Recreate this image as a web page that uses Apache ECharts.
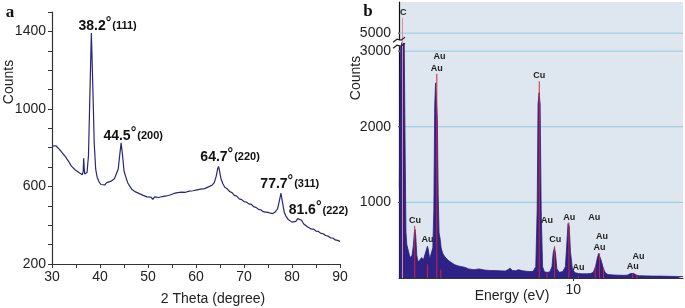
<!DOCTYPE html>
<html>
<head>
<meta charset="utf-8">
<script src="https://cdn.jsdelivr.net/npm/echarts@6/dist/echarts.min.js"></script>
<style>
html, body { margin: 0; padding: 0; background: #fff; }
#chart_box { width: 685px; height: 308px; }
</style>
</head>
<body>
<div id="chart_box"></div>
<script>
/* a: XRD pattern */
var xrdTheta = [30.0, 30.4, 30.8, 31.2, 31.6, 32.0, 32.4, 32.8, 33.2, 33.6, 34.0, 34.4, 34.8, 35.2, 35.6, 36.0, 36.3, 36.5, 36.6, 36.7, 36.8, 37.0, 37.3, 37.6, 37.9, 38.2, 38.5, 38.8, 39.1, 39.4, 39.8,
	40.2, 40.6, 41.0, 41.4, 41.8, 42.2, 42.6, 43.0, 43.4, 43.8, 44.1, 44.4, 44.7, 45.0, 45.4, 45.8, 46.2, 46.6, 47.0, 47.4, 47.8, 48.2, 48.6, 49.0, 49.4, 49.8,
	50.2, 50.6, 51.0, 51.4, 51.8, 52.2, 52.6, 53.0, 53.4, 53.8, 54.2, 54.6, 55.0, 55.4, 55.8, 56.2, 56.6, 57.0, 57.4, 57.8, 58.2, 58.6, 59.0, 59.4, 59.8,
	60.2, 60.6, 61.0, 61.4, 61.8, 62.2, 62.6, 63.0, 63.4, 63.8, 64.2, 64.5, 64.7, 64.9, 65.2, 65.6, 66.0, 66.5, 67.0, 67.5, 68.0, 68.5, 69.0, 69.5,
	70.0, 70.5, 71.0, 71.5, 72.0, 72.5, 73.0, 73.5, 74.0, 74.5, 75.0, 75.5, 76.0, 76.5, 77.0, 77.4, 77.7, 78.0, 78.4, 78.8, 79.2, 79.6,
	80.0, 80.4, 80.8, 81.2, 81.6, 82.0, 82.4, 82.8, 83.2, 83.6, 84.0, 84.5, 85.0, 85.5, 86.0, 86.5, 87.0, 87.5, 88.0, 88.5, 89.0, 89.5, 90.0];
var xrdCounts = [808, 818, 810, 808, 790, 782, 765, 754, 738, 724, 706, 702, 686, 686, 672, 670, 660, 678, 745, 700, 664, 660, 672, 760, 1080, 1392, 1120, 820, 690, 648, 624,
	610, 616, 608, 620, 614, 626, 626, 640, 650, 690, 760, 825, 760, 680, 647, 618, 602, 586, 584, 572, 572, 563, 562, 554, 554, 546,
	547, 545, 534, 546, 544, 543, 546, 548, 550, 551, 553, 556, 556, 564, 556, 568, 561, 571, 570, 570, 574, 576, 578, 578, 581,
	582, 584, 586, 588, 589, 590, 598, 596, 608, 620, 652, 690, 703, 680, 640, 614, 596, 588, 574, 568, 554, 550, 536, 532,
	522, 520, 510, 508, 496, 492, 482, 480, 470, 468, 466, 462, 460, 468, 485, 530, 565, 520, 465, 444, 430, 424,
	416, 418, 420, 434, 440, 426, 408, 400, 392, 390, 380, 380, 370, 368, 358, 356, 347, 344, 335, 334, 324, 322, 317];
/* peak labels (anchor in data space) */
var xrdPeakText = ['38.2', '44.5', '64.7', '77.7', '81.6'];
var xrdPeakHkl = ['(111)', '(200)', '(220)', '(311)', '(222)'];
var xrdLabelTheta = [35.4, 40.6, 60.8, 73.3, 79.2];
var xrdLabelCounts = [1427, 858, 753, 612, 476];

/* b: EDS spectrum */
var edsEnergy = [0.02, 0.06, 0.10, 0.20, 0.30, 0.36, 0.40, 0.45, 0.52, 0.60, 0.66, 0.75, 0.82, 0.88, 0.92, 0.96, 1.02, 1.10, 1.20, 1.30, 1.40, 1.50, 1.58, 1.63, 1.68, 1.76, 1.86, 1.94,
	2.00, 2.05, 2.10, 2.15, 2.20, 2.25, 2.30, 2.36, 2.42, 2.50, 2.60, 2.75, 2.90, 3.00, 3.2, 3.4, 3.6, 3.8, 4.0, 4.3, 4.6, 4.9, 5.2, 5.5, 5.8, 6.1, 6.25, 6.38, 6.5, 6.7, 6.85, 6.95,
	7.1, 7.3, 7.5, 7.7, 7.85, 7.93, 7.98, 8.04, 8.10, 8.16, 8.24, 8.35, 8.5, 8.65, 8.78, 8.85, 8.92, 8.98, 9.06, 9.2, 9.4, 9.55, 9.63, 9.70, 9.77, 9.84, 9.95,
	10.1, 10.3, 10.5, 10.8, 11.0, 11.15, 11.28, 11.38, 11.46, 11.54, 11.62, 11.72, 11.85, 12.0, 12.3, 12.6, 12.9, 13.1, 13.3, 13.40, 13.48, 13.6, 13.8, 14.2, 14.6, 15.0, 15.5, 16.0, 16.3];
var edsCounts = [1200, 2600, 3900, 3900, 3850, 1500, 600, 440, 420, 300, 270, 300, 420, 600, 640, 560, 300, 210, 230, 270, 240, 260, 380, 420, 380, 250, 260, 400,
	900, 2280, 2580, 2560, 2110, 1100, 600, 520, 400, 330, 290, 250, 220, 200, 175, 160, 150, 140, 120, 110, 120, 105, 100, 98, 95, 92, 110, 130, 100, 95, 110, 115,
	95, 90, 85, 88, 150, 900, 2300, 2450, 2300, 900, 150, 80, 75, 80, 150, 330, 400, 330, 120, 75, 85, 150, 450, 720, 680, 350, 120,
	70, 60, 55, 55, 60, 75, 150, 260, 325, 300, 220, 130, 65, 45, 40, 38, 35, 38, 60, 80, 60, 40, 30, 28, 25, 25, 22, 20, 20];
/* element marker lines */
var edsLineEnergy = [0.20, 0.90, 1.63, 2.17, 2.40, 8.05, 8.49, 8.93, 9.75, 10.30, 11.26, 11.51, 11.74, 13.41, 13.66];
var edsLineCounts = [6700, 690, 180, 2700, 110, 2600, 70, 420, 735, 25, 140, 325, 140, 60, 40];
/* element tags (anchor in data space) */
var edsTagText = ['C', 'Au', 'Au', 'Cu', 'Cu', 'Au', 'Au', 'Cu', 'Au', 'Au', 'Au', 'Au', 'Au', 'Au', 'Au'];
var edsTagEnergy = [0.25, 2.32, 2.17, 8.05, 0.92, 1.63, 8.49, 8.97, 9.77, 11.21, 11.65, 11.51, 10.30, 13.75, 13.41];
var edsTagCounts = [7260, 2925, 2770, 2682, 762, 510, 762, 510, 805, 805, 554, 408, 143, 289, 156];
/* y ticks of b (real counts) */
var edsYTicks = [1000, 2000, 3000, 5000];

var FONT = '"Liberation Sans", Arial, sans-serif';
var AXIS = '#333';
var E_MAX = 16.3;

/* broken y axis: above 3000 compressed */
function brk(v) {
	return v <= 3000 ? v : 3000 + (v - 3000) * 0.119;
}
function unbrk(v) {
	return v <= 3000 ? v : Math.round(3000 + (v - 3000) / 0.119);
}

var chart = echarts.init(document.getElementById('chart_box'));

var xrdData = xrdTheta.map(function(t, i) { return [t, xrdCounts[i]]; });
var xrdLabels = xrdPeakText.map(function(t, i) {
	return { value: [xrdLabelTheta[i], xrdLabelCounts[i]], name: t, hkl: xrdPeakHkl[i] };
});
var edsData = edsEnergy.map(function(e, i) { return [e, brk(edsCounts[i])]; });
var edsLines = edsLineEnergy.map(function(e, i) { return [e, brk(edsLineCounts[i])]; });
var edsTags = edsTagText.map(function(t, i) {
	return { value: [edsTagEnergy[i], brk(edsTagCounts[i])], name: t };
});

/* b: one line series per grid line, one per y tick (tick sits left of the axis) */
var gridSeries = [];
edsYTicks.forEach(function(v) {
	gridSeries.push({
		type: 'line', xAxisIndex: 1, yAxisIndex: 1, z: 1, silent: true,
		data: [[0, brk(v)], [E_MAX, brk(v)]], showSymbol: false, symbol: 'none',
		lineStyle: { color: '#8ecce4', width: 1 }
	});
	gridSeries.push({
		type: 'line', xAxisIndex: 1, yAxisIndex: 1, z: 6, silent: true, clip: false,
		data: [[-0.23, brk(v)], [0, brk(v)]], showSymbol: false, symbol: 'none',
		lineStyle: { color: AXIS, width: 1 }
	});
});

var option = {
	animation: false,
	backgroundColor: '#fff',
	grid: [
		{ left: 52, right: 345, top: 12, bottom: 44 },
		{ left: 399, right: 2, top: 2, bottom: 30, show: true, backgroundColor: '#dee7ef', borderWidth: 0 }
	],
	xAxis: [{
		gridIndex: 0, type: 'value', min: 30, max: 90, interval: 5,
		axisLine: { lineStyle: { color: AXIS, width: 1.2 } },
		axisTick: { length: 4, lineStyle: { color: AXIS } },
		splitLine: { show: false },
		axisLabel: {
			color: '#222', fontSize: 14, fontFamily: FONT, margin: 6,
			formatter: function(v) { return v % 10 === 0 ? String(v) : ''; }
		}
	}, {
		gridIndex: 1, type: 'value', min: 0, max: E_MAX,
		axisLine: { lineStyle: { color: AXIS, width: 1.2 } },
		axisTick: { length: 3, customValues: [10], lineStyle: { color: AXIS } },
		splitLine: { show: false },
		axisLabel: { customValues: [10], color: '#222', fontSize: 14, fontFamily: FONT, margin: 5 }
	}],
	yAxis: [{
		gridIndex: 0, type: 'value', min: 200, max: 1500, interval: 100,
		axisLine: { show: true, lineStyle: { color: AXIS, width: 1.2 } },
		axisTick: { show: true, length: 4, lineStyle: { color: AXIS } },
		splitLine: { show: false },
		axisLabel: {
			customValues: [200, 600, 1000, 1400], color: '#222', fontSize: 14, fontFamily: FONT, margin: 6,
			formatter: function(v) { return String(v); }
		}
	}, {
		gridIndex: 1, type: 'value', min: 0, max: 3650,
		axisLine: { show: true, lineStyle: { color: '#111', width: 1.2 } },
		axisTick: { show: false },
		splitLine: { show: false },
		axisLabel: {
			customValues: edsYTicks.map(brk), color: '#222', fontSize: 14, fontFamily: FONT, margin: 8,
			formatter: function(v) { return String(unbrk(v)); }
		}
	}],
	series: [{
		/* XRD curve */
		type: 'line', xAxisIndex: 0, yAxisIndex: 0,
		data: xrdData, showSymbol: false, symbol: 'none',
		lineStyle: { color: '#27267f', width: 1.2 }
	}, {
		/* XRD peak labels */
		type: 'scatter', xAxisIndex: 0, yAxisIndex: 0,
		data: xrdLabels, symbolSize: 1, itemStyle: { color: 'rgba(0,0,0,0)', opacity: 1 },
		label: {
			show: true, position: 'right', distance: 0,
			formatter: function(p) { return '{n|' + p.name + '}{d|°}{h|' + p.data.hkl + '}'; },
			rich: {
				n: { fontSize: 14, fontWeight: 'bold', color: '#111', fontFamily: FONT },
				d: { fontSize: 14, fontWeight: 'bold', color: '#111', fontFamily: FONT, padding: [0, 1, 6, 0] },
				h: { fontSize: 11, fontWeight: 'bold', color: '#111', fontFamily: FONT }
			}
		}
	}, {
		/* EDS spectrum */
		type: 'line', xAxisIndex: 1, yAxisIndex: 1, z: 3,
		data: edsData, showSymbol: false, symbol: 'none',
		lineStyle: { color: '#2c2080', width: 0.8 },
		areaStyle: { color: '#2e2286', opacity: 1 }
	}, {
		/* element marker lines */
		type: 'custom', xAxisIndex: 1, yAxisIndex: 1, z: 4,
		data: edsLines,
		renderItem: function(params, api) {
			var p0 = api.coord([api.value(0), 0]);
			var p1 = api.coord([api.value(0), api.value(1)]);
			return {
				type: 'line',
				shape: { x1: p0[0], y1: p0[1], x2: p1[0], y2: p1[1] },
				style: { stroke: params.dataIndex === 0 ? '#e38a95' : '#d0243f', lineWidth: 1 }
			};
		}
	}, {
		/* element tags */
		type: 'scatter', xAxisIndex: 1, yAxisIndex: 1, z: 5,
		data: edsTags, symbolSize: 1, itemStyle: { color: 'rgba(0,0,0,0)', opacity: 1 },
		label: {
			show: true, position: 'inside', formatter: '{b}',
			fontSize: 9, fontWeight: 'bold', fontFamily: FONT, color: '#222'
		}
	}].concat(gridSeries)
};
chart.setOption(option);

/* texts and axis-break mark */
var p3000 = chart.convertToPixel({ gridIndex: 1 }, [0, brk(3000)]);
var p5000 = chart.convertToPixel({ gridIndex: 1 }, [0, brk(5000)]);
var ax = p3000[0], mid = (p3000[1] + p5000[1]) / 2 + 1;
chart.setOption({
	graphic: [
		{ type: 'text', x: 10, y: 13, style: { text: 'a', font: 'bold 17px "Liberation Serif", serif', fill: '#111', align: 'center', verticalAlign: 'middle' } },
		{ type: 'text', x: 368, y: 12, style: { text: 'b', font: 'bold 17px "Liberation Serif", serif', fill: '#111', align: 'center', verticalAlign: 'middle' } },
		{ type: 'text', x: 9, y: 82, rotation: Math.PI / 2, style: { text: 'Counts', font: '14px ' + FONT, fill: '#222', align: 'center', verticalAlign: 'middle' } },
		{ type: 'text', x: 213, y: 299, style: { text: '2 Theta (degree)', font: '14px ' + FONT, fill: '#222', align: 'center', verticalAlign: 'middle' } },
		{ type: 'text', x: 356, y: 78, rotation: Math.PI / 2, style: { text: 'Counts', font: '14px ' + FONT, fill: '#222', align: 'center', verticalAlign: 'middle' } },
		{ type: 'text', x: 512, y: 296, style: { text: 'Energy (eV)', font: '14px ' + FONT, fill: '#222', align: 'center', verticalAlign: 'middle' } },
		{ type: 'rect', z: 10, shape: { x: ax - 2, y: mid - 3, width: 4, height: 6 }, style: { fill: '#fff' } },
		{ type: 'polyline', z: 11, shape: { points: [[ax - 6, mid - 1], [ax - 2, mid - 4], [ax + 2, mid - 3], [ax + 6, mid - 6]] }, style: { stroke: '#222', lineWidth: 1.2, fill: null } },
		{ type: 'polyline', z: 11, shape: { points: [[ax - 6, mid + 5], [ax - 2, mid + 2], [ax + 2, mid + 3], [ax + 6, mid]] }, style: { stroke: '#222', lineWidth: 1.2, fill: null } }
	]
});
</script>
</body>
</html>
